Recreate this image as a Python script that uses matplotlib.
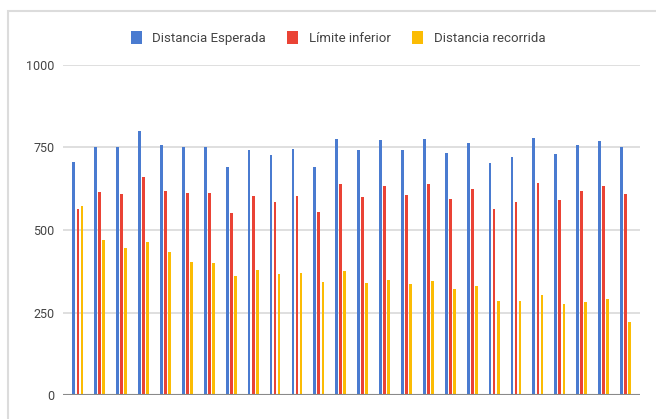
import numpy as np
import matplotlib
matplotlib.use("Agg")
import matplotlib.pyplot as plt
from matplotlib.patches import Patch, Rectangle

# valores
esperada = [705, 753, 750, 800, 757, 750, 753, 692, 742, 726, 746, 692, 776,
            742, 773, 742, 776, 732, 763, 702, 722, 780, 729, 757, 769, 750]
limite = [565, 615, 608, 662, 618, 612, 612, 551, 604, 585, 604, 555, 638,
          601, 632, 605, 638, 595, 625, 565, 585, 642, 592, 618, 632, 608]
recorrida = [574, 470, 446, 463, 433, 403, 399, 360, 380, 367, 369, 342, 376,
             338, 348, 335, 345, 322, 329, 286, 286, 302, 276, 283, 290, 222]

series = ["Distancia Esperada", "Límite inferior", "Distancia recorrida"]
colores = ["#4a7bd0", "#ea4335", "#fbbc04"]
yticks = [0, 250, 500, 750, 1000]

plt.rcParams['font.family'] = ['Roboto', 'DejaVu Sans']

W, H = 656, 419
fig = plt.figure(figsize=(W / 100, H / 100), dpi=100)
ax = fig.add_axes([63 / W, 1 - 395 / H, (640 - 63) / W, (395 - 65) / H])

x = np.arange(len(esperada))
off = 0.185
ancho = 0.125
for i, (vals, c) in enumerate(zip([esperada, limite, recorrida], colores)):
    ax.bar(x + (i - 1) * off, vals, width=ancho, color=c, zorder=3)

ax.set_xlim(-0.68, len(esperada) - 1 + 0.66)
ax.set_ylim(0, 1000)
ax.set_yticks(yticks)
ax.set_yticklabels([str(t) for t in yticks])
ax.set_xticks([])
ax.grid(axis="y", color="#d9d9d9", linewidth=1.2, zorder=0)
ax.axhline(0, color="#8a8a8a", linewidth=1.5, zorder=4)
for s in ax.spines.values():
    s.set_visible(False)
ax.tick_params(axis="y", length=0, pad=6, labelsize=9, labelcolor="#444444")

handles = [Patch(facecolor=c, edgecolor="none") for c in colores]
fig.legend(handles, series, loc="center", bbox_to_anchor=(338 / W, 1 - 38 / H),
           ncol=3, frameon=False, fontsize=9.5, labelcolor="#444444",
           handlelength=0.85, handleheight=1.1, handletextpad=0.8,
           columnspacing=1.6)

# borde gris claro del cuadro
fig.patches.append(Rectangle((8 / W, -0.1), 1.2, 1 - 11 / H + 0.1,
                             transform=fig.transFigure, fill=False,
                             edgecolor="#dcdcdc", linewidth=1.5))

fig.savefig("out.png", dpi=100)
